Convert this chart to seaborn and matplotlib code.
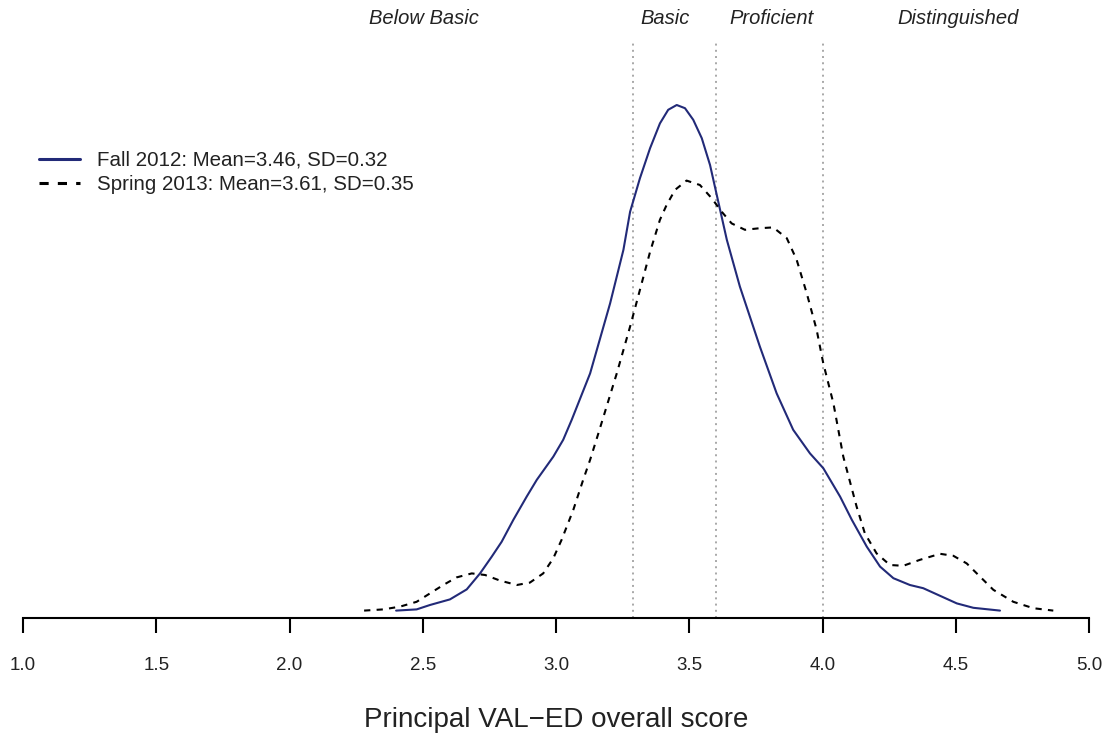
import numpy as np
import pandas as pd
import matplotlib
matplotlib.use("Agg")
import matplotlib.pyplot as plt
import seaborn as sns

# ---- data ----
fall_label = "Fall 2012: Mean=3.46, SD=0.32"
spring_label = "Spring 2013: Mean=3.61, SD=0.35"

fall_x = [2.400, 2.477, 2.527, 2.602, 2.665, 2.715, 2.759, 2.796, 2.840, 2.890,
          2.928, 2.990, 3.027, 3.059, 3.128, 3.203, 3.253, 3.278, 3.315, 3.353,
          3.390, 3.421, 3.453, 3.484, 3.515, 3.547, 3.578, 3.609, 3.641, 3.690,
          3.765, 3.828, 3.890, 3.953, 4.003, 4.066, 4.110, 4.166, 4.216, 4.266,
          4.328, 4.378, 4.441, 4.504, 4.566, 4.666]
fall_y = [0.001, 0.004, 0.015, 0.029, 0.054, 0.094, 0.136, 0.173, 0.228, 0.286,
          0.328, 0.386, 0.428, 0.478, 0.594, 0.769, 0.903, 0.998, 1.082, 1.157,
          1.219, 1.253, 1.265, 1.257, 1.228, 1.182, 1.115, 1.023, 0.928, 0.811,
          0.661, 0.544, 0.453, 0.394, 0.357, 0.286, 0.228, 0.161, 0.111, 0.082,
          0.065, 0.057, 0.038, 0.019, 0.008, 0.001]

spring_x = [2.280, 2.352, 2.415, 2.477, 2.527, 2.577, 2.627, 2.684, 2.734, 2.790,
            2.853, 2.902, 2.952, 2.990, 3.021, 3.065, 3.102, 3.128, 3.159, 3.228,
            3.278, 3.315, 3.353, 3.390, 3.415, 3.447, 3.490, 3.540, 3.584, 3.622,
            3.659, 3.709, 3.765, 3.815, 3.866, 3.903, 3.941, 3.978, 4.003, 4.041,
            4.078, 4.128, 4.159, 4.203, 4.253, 4.303, 4.366, 4.441, 4.491, 4.541,
            4.591, 4.641, 4.716, 4.791, 4.866]
spring_y = [0.001, 0.004, 0.011, 0.023, 0.044, 0.065, 0.084, 0.094, 0.090, 0.076,
            0.065, 0.071, 0.094, 0.132, 0.178, 0.253, 0.328, 0.378, 0.444, 0.594,
            0.711, 0.803, 0.898, 0.978, 1.015, 1.053, 1.076, 1.065, 1.032, 0.998,
            0.969, 0.953, 0.957, 0.959, 0.932, 0.878, 0.794, 0.703, 0.619, 0.519,
            0.386, 0.261, 0.194, 0.144, 0.115, 0.113, 0.128, 0.143, 0.138, 0.119,
            0.086, 0.053, 0.023, 0.007, 0.001]

cut_scores = [3.29, 3.60, 4.00]
level_names = ["Below Basic", "Basic", "Proficient", "Distinguished"]
level_pos = [2.506, 3.41, 3.81, 4.51]

x_ticks = [1.0, 1.5, 2.0, 2.5, 3.0, 3.5, 4.0, 4.5, 5.0]
x_tick_labels = ["1.0", "1.5", "2.0", "2.5", "3.0", "3.5", "4.0", "4.5", "5.0"]
x_label = "Principal VAL\u2212ED overall score"

# ---- build frame ----
df = pd.concat([
    pd.DataFrame({"score": fall_x, "density": fall_y, "series": fall_label}),
    pd.DataFrame({"score": spring_x, "density": spring_y, "series": spring_label}),
], ignore_index=True)

sns.set_style("white")
plt.rcParams["font.family"] = ["Liberation Sans", "DejaVu Sans"]
plt.rcParams["lines.solid_joinstyle"] = "round"

W, H = 1114, 738
fig = plt.figure(figsize=(W / 100, H / 100), dpi=100)
ax_left, ax_right, ax_top, ax_bottom = 23, 1089, 40, 618
ax = fig.add_axes([ax_left / W, 1 - ax_bottom / H,
                   (ax_right - ax_left) / W, (ax_bottom - ax_top) / H])

navy = "#222a78"
sns.lineplot(data=df, x="score", y="density", hue="series", style="series",
             palette={fall_label: navy, spring_label: "black"},
             dashes={fall_label: "", spring_label: (3, 3)},
             estimator=None, sort=False, linewidth=1.5, ax=ax)

for c in cut_scores:
    ax.axvline(c, color="#a8a8a8", linestyle=(0, (1, 2.2)), linewidth=1.4, zorder=0)

ax.set_xlim(1.0, 5.0)
ax.set_ylim(-7 / 400, (611 - 40) / 400)

for name, pos in zip(level_names, level_pos):
    ax.text(pos, 1.0 + 22 / 578, name, transform=ax.get_xaxis_transform(),
            ha="center", va="center", fontsize=14.5, style="italic", color="#222222")

ax.set_xticks(x_ticks)
ax.set_xticklabels(x_tick_labels)
ax.set_yticks([])
ax.set_ylabel("")
ax.set_xlabel(x_label, fontsize=20, color="#222222")
ax.xaxis.set_label_coords(0.5, -(707 - 618) / 578)
ax.tick_params(axis="x", direction="out", length=10.8, width=1.5, pad=17.5,
               labelsize=13.5, colors="black", labelcolor="#222222", bottom=True)

for s in ["top", "right", "left"]:
    ax.spines[s].set_visible(False)
ax.spines["bottom"].set_linewidth(1.5)
ax.spines["bottom"].set_color("black")

leg = ax.legend(loc="upper left", bbox_to_anchor=((39 - ax_left) / (ax_right - ax_left),
                                                  1 - (151 - ax_top) / (ax_bottom - ax_top)),
                frameon=False, fontsize=14.8, handlelength=2.0, handletextpad=0.8,
                labelspacing=0.25, borderaxespad=0, borderpad=0)
for t in leg.get_texts():
    t.set_color("#222222")
for h in leg.get_lines():
    h.set_linewidth(2.2)

fig.savefig("out.png", dpi=100)
